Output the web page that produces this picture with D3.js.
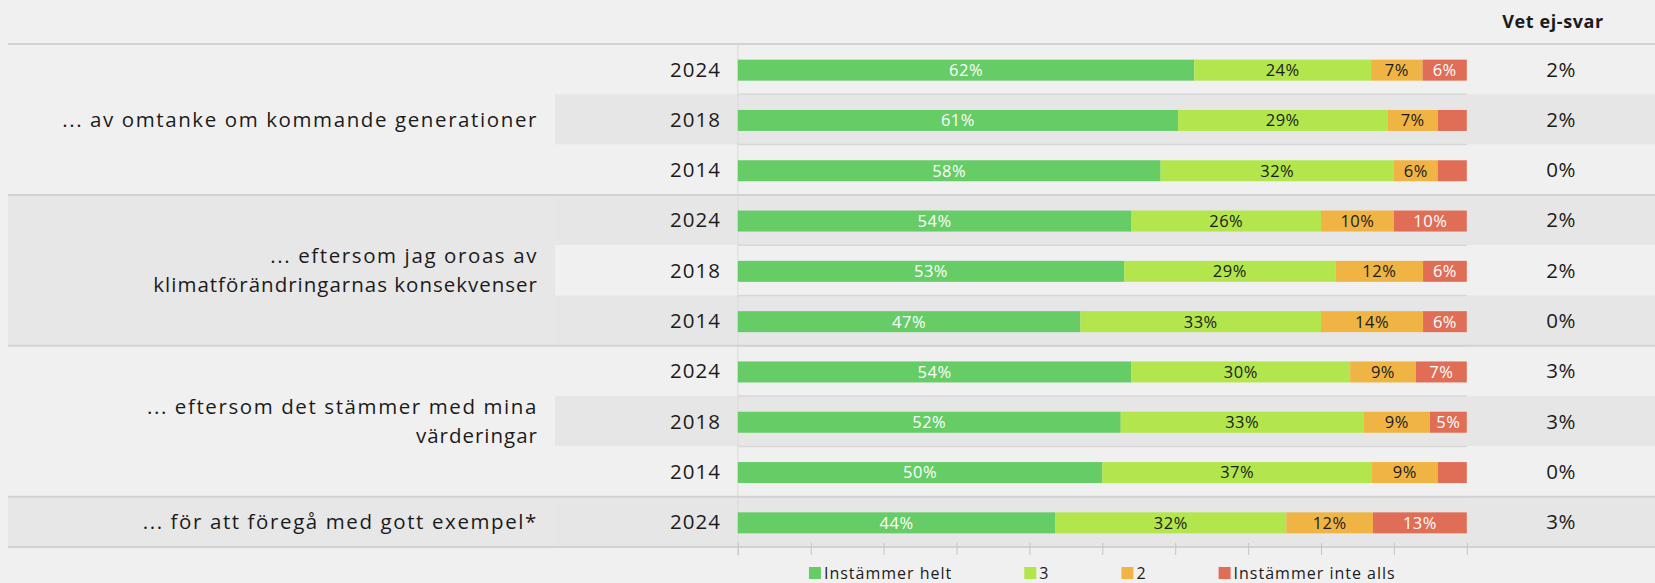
<!DOCTYPE html>
<html>
<head>
<meta charset="utf-8">
<script src="https://cdn.jsdelivr.net/npm/d3@7"></script>
<style>
  html, body { margin: 0; padding: 0; background: #f0f0f0; }
  svg { display: block; font-family: "Open Sans", sans-serif; }
  .txt { fill: #1b1b1b; }
</style>
</head>
<body>
<svg id="chart" width="1655" height="583"></svg>
<script>
// ── Data ──────────────────────────────────────────────────────────────────
var groupLabels = [
  ['... av omtanke om kommande generationer'],
  ['... eftersom jag oroas av', 'klimatförändringarnas konsekvenser'],
  ['... eftersom det stämmer med mina', 'värderingar'],
  ['... för att föregå med gott exempel*']
];
var rowGroup = [0, 0, 0, 1, 1, 1, 2, 2, 2, 3];
var rowYear  = ['2024', '2018', '2014', '2024', '2018', '2014', '2024', '2018', '2014', '2024'];

var seriesNames = ['Instämmer helt', '3', '2', 'Instämmer inte alls'];
var helt  = [62, 61, 58, 54, 53, 47, 54, 52, 50, 44];
var tre   = [24, 29, 32, 26, 29, 33, 30, 33, 37, 32];
var tva   = [7, 7, 6, 10, 12, 14, 9, 9, 9, 12];
var inte  = [6, 4, 4, 10, 6, 6, 7, 5, 4, 13];
var vetEj = [2, 2, 0, 2, 2, 0, 3, 3, 0, 3];

var colors    = ['#66cc66', '#b3e64c', '#f0b444', '#e06e57'];
var textColor = ['#ffffff', '#1b1b1b', '#1b1b1b', '#ffffff'];

(function () {
  'use strict';

  // ── Layout ──────────────────────────────────────────────────────────────
  var W = 1655, H = 583;
  var topY = 44, rowH = 50.3;
  var labelRight = 538, cellSplit = 555, yearRight = 721;
  var plotL = 737.8, plotR = 1466.8, vetX = 1561;

  var svg = d3.select('#chart');

  var rows = rowYear.map(function (yr, i) {
    return { i: i, year: yr, g: rowGroup[i], vet: vetEj[i],
             'Instämmer helt': helt[i], '3': tre[i], '2': tva[i], 'Instämmer inte alls': inte[i] };
  });

  var y = d3.scaleBand().domain(d3.range(rows.length)).range([topY, topY + rowH * rows.length]);
  var x = d3.scaleLinear().domain([0, 1]).range([plotL, plotR]);

  function rowEdge(i) { return i < rows.length ? y(i) : y(i - 1) + y.bandwidth(); }
  function groupRows(g) { return d3.range(rows.length).filter(function (i) { return rowGroup[i] === g; }); }

  // ── Backgrounds ─────────────────────────────────────────────────────────
  var bg = svg.append('g');
  bg.append('rect').attr('width', W).attr('height', H).attr('fill', '#f0f0f0');

  groupLabels.forEach(function (lines, g) {
    var idx = groupRows(g);
    var y0 = y(idx[0]), y1 = rowEdge(idx[idx.length - 1] + 1);
    bg.append('rect').attr('x', 8).attr('width', cellSplit - 8)
      .attr('y', y0).attr('height', y1 - y0)
      .attr('fill', g % 2 ? '#e7e7e7' : '#f0f0f0');
  });

  bg.selectAll('rect.band').data(rows).join('rect').attr('class', 'band')
    .attr('x', cellSplit).attr('width', W - cellSplit)
    .attr('y', function (d) { return y(d.i); }).attr('height', y.bandwidth())
    .attr('fill', function (d) { return d.i % 2 ? '#e6e6e6' : '#f0f0f0'; });

  // row lines inside the plot area
  bg.selectAll('line.row').data(d3.range(1, rows.length)).join('line').attr('class', 'row')
    .attr('x1', plotL).attr('x2', plotR)
    .attr('y1', rowEdge).attr('y2', rowEdge)
    .attr('stroke', '#d8d8d8').attr('stroke-width', 1.5);

  bg.append('line').attr('x1', plotL).attr('x2', plotL)
    .attr('y1', topY).attr('y2', 556).attr('stroke', '#dadada');

  // group separators + header / bottom lines
  bg.selectAll('line.sep').data([0, 3, 6, 9, 10]).join('line').attr('class', 'sep')
    .attr('x1', 8).attr('x2', W)
    .attr('y1', rowEdge).attr('y2', rowEdge)
    .attr('stroke', '#d2d2d2').attr('stroke-width', 2);

  // ── Axis ticks ──────────────────────────────────────────────────────────
  var axis = svg.append('g').attr('transform', 'translate(0,543)')
    .call(d3.axisBottom(x).ticks(10).tickSize(12).tickFormat(''));
  axis.select('.domain').remove();
  axis.selectAll('line').attr('stroke', '#c4c4c4');

  // ── Stacked bars ────────────────────────────────────────────────────────
  var layers = d3.stack().keys(seriesNames).offset(d3.stackOffsetExpand)(rows);
  var barH = 21;

  var layer = svg.append('g').selectAll('g').data(layers).join('g')
    .attr('fill', function (d, k) { return colors[k]; });

  layer.selectAll('rect').data(function (d) { return d; }).join('rect')
    .attr('x', function (d) { return x(d[0]); })
    .attr('width', function (d) { return x(d[1]) - x(d[0]); })
    .attr('y', function (d) { return y(d.data.i) + y.bandwidth() / 2 - barH / 2 + 1; })
    .attr('height', barH);

  layer.each(function (L, k) {
    d3.select(this).selectAll('text')
      .data(L.filter(function (d) { return d.data[L.key] >= 5; }))
      .join('text')
      .attr('x', function (d) { return (x(d[0]) + x(d[1])) / 2; })
      .attr('y', function (d) { return y(d.data.i) + y.bandwidth() / 2 + 1; })
      .attr('dy', '0.36em').attr('text-anchor', 'middle')
      .attr('font-size', 16.5).attr('letter-spacing', 0.5)
      .attr('fill', textColor[k])
      .text(function (d) { return d.data[L.key] + '%'; });
  });

  // ── Texts ───────────────────────────────────────────────────────────────
  svg.append('text').attr('class', 'txt')
    .attr('x', 1553).attr('y', 28).attr('text-anchor', 'middle')
    .attr('font-size', 18).attr('font-weight', 'bold').attr('letter-spacing', 0.6)
    .text('Vet ej-svar');

  svg.append('g').selectAll('text').data(rows).join('text').attr('class', 'txt')
    .attr('x', yearRight).attr('y', function (d) { return y(d.i) + y.bandwidth() / 2; })
    .attr('dy', '0.36em').attr('text-anchor', 'end')
    .attr('font-size', 20.5).attr('letter-spacing', 1)
    .text(function (d) { return d.year; });

  svg.append('g').selectAll('text').data(rows).join('text').attr('class', 'txt')
    .attr('x', vetX).attr('y', function (d) { return y(d.i) + y.bandwidth() / 2; })
    .attr('dy', '0.36em').attr('text-anchor', 'middle')
    .attr('font-size', 20.5).attr('letter-spacing', 0.5)
    .text(function (d) { return d.vet + '%'; });

  var lineGap = 28.5;
  groupLabels.forEach(function (lines, g) {
    var idx = groupRows(g);
    var cy = (y(idx[0]) + rowEdge(idx[idx.length - 1] + 1)) / 2;
    var t = svg.append('text').attr('class', 'txt')
      .attr('text-anchor', 'end').attr('font-size', 20.5);
    lines.forEach(function (s, j) {
      t.append('tspan').attr('x', labelRight)
        .attr('y', cy + (j - (lines.length - 1) / 2) * lineGap)
        .attr('letter-spacing', s.indexOf('...') === 0 ? 1.6 : 1)
        .attr('dy', '0.36em').text(s);
    });
  });

  // ── Legend ──────────────────────────────────────────────────────────────
  var items = svg.append('g').selectAll('g').data(seriesNames).join('g');
  items.append('rect').attr('width', 12).attr('height', 12).attr('y', 567)
    .attr('fill', function (d, k) { return colors[k]; });
  items.append('text').attr('class', 'txt').attr('x', 15).attr('y', 579)
    .attr('font-size', 16).attr('letter-spacing', 1).text(function (d) { return d; });

  var widths = [];
  items.each(function () { widths.push(15 + this.querySelector('text').getComputedTextLength()); });
  var gap = 72, total = d3.sum(widths) + gap * (widths.length - 1);
  var lx = (plotL + plotR) / 2 - total / 2;
  items.attr('transform', function (d, k) {
    return 'translate(' + (lx + d3.sum(widths.slice(0, k)) + gap * k) + ',0)';
  });
})();
</script>
</body>
</html>
